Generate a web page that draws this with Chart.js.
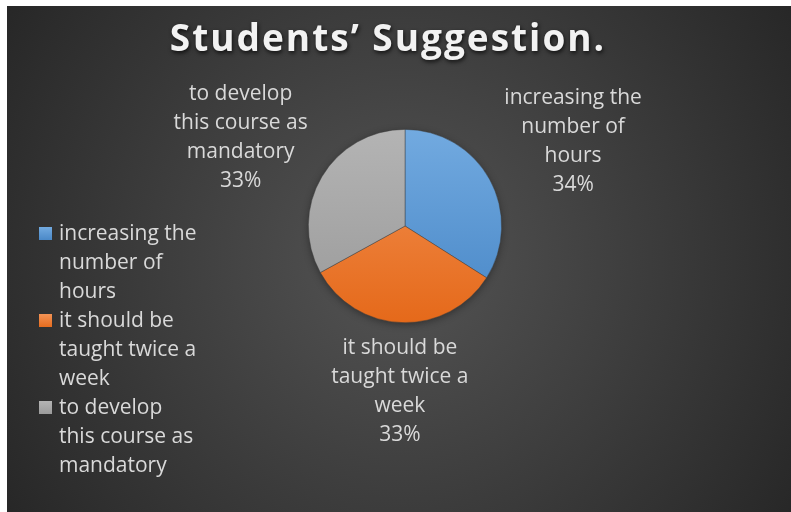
<!DOCTYPE html>
<html>
<head>
<meta charset="utf-8">
<script src="https://cdn.jsdelivr.net/npm/chart.js@4"></script>
<style>
  html, body { margin: 0; padding: 0; background: #fff; }
  canvas { display: block; }
</style>
</head>
<body>
<canvas id="pieChart" width="791" height="512"></canvas>
<script>
// data
const chartTitle = "Students’ Suggestion.";
const categories = [
  ["increasing the", "number of", "hours"],
  ["it should be", "taught twice a", "week"],
  ["to develop", "this course as", "mandatory"]
];
const shares = [34, 33, 33];
const sliceTops = ["#72aae0", "#f39355", "#b4b4b4"];
const sliceBottoms = ["#4786c6", "#e5691a", "#999999"];
const textColor = "#d9d9d9";
const fontFamily = "'Open Sans', sans-serif";

// === BACKGROUND (white frame + dark radial panel) ===
const backgroundPlugin = {
  id: "panelBg",
  beforeDraw(chart) {
    const ctx = chart.ctx;
    ctx.save();
    ctx.fillStyle = "#ffffff";
    ctx.fillRect(0, 0, chart.width, chart.height);
    const g = ctx.createRadialGradient(400, 260, 0, 400, 260, 480);
    g.addColorStop(0, "#545454");
    g.addColorStop(1, "#262626");
    ctx.fillStyle = g;
    ctx.fillRect(7, 6, chart.width - 7, chart.height - 6);
    ctx.restore();
  },
  beforeDatasetsDraw(chart) {
    // soft shadow under the pie
    const arc = chart.getDatasetMeta(0).data[0];
    if (!arc) return;
    const ctx = chart.ctx;
    ctx.save();
    ctx.shadowColor = "rgba(0,0,0,0.45)";
    ctx.shadowBlur = 8;
    ctx.shadowOffsetY = 2;
    ctx.beginPath();
    ctx.arc(arc.x, arc.y, arc.outerRadius - 1, 0, Math.PI * 2);
    ctx.fillStyle = "#555";
    ctx.fill();
    ctx.restore();
  }
};

// === TITLE ===
const titlePlugin = {
  id: "shadowTitle",
  afterDraw(chart) {
    const ctx = chart.ctx;
    ctx.save();
    ctx.font = "bold 37px " + fontFamily;
    ctx.letterSpacing = "2px";
    ctx.textAlign = "center";
    ctx.textBaseline = "middle";
    ctx.shadowColor = "rgba(0,0,0,0.75)";
    ctx.shadowBlur = 4;
    ctx.shadowOffsetX = 1;
    ctx.shadowOffsetY = 2;
    ctx.fillStyle = "#f2f2f2";
    ctx.fillText(chartTitle, 388, 40);
    ctx.restore();
  }
};

// === DATA LABELS (outside the slices) ===
const lineH = 29;
const dataLabelPlugin = {
  id: "outsideLabels",
  afterDatasetsDraw(chart) {
    const ctx = chart.ctx;
    const meta = chart.getDatasetMeta(0);
    const total = shares.reduce((a, b) => a + b, 0);
    ctx.save();
    ctx.font = "21px " + fontFamily;
    ctx.fillStyle = textColor;
    ctx.textAlign = "center";
    ctx.textBaseline = "middle";
    meta.data.forEach((arc, i) => {
      const p = arc.getProps(["x", "y", "startAngle", "endAngle", "outerRadius"], true);
      const mid = (p.startAngle + p.endAngle) / 2;
      const lines = categories[i].concat([Math.round(shares[i] / total * 100) + "%"]);
      const w = Math.max(...lines.map(l => ctx.measureText(l).width));
      const h = lines.length * lineH;
      const c = Math.cos(mid), s = Math.sin(mid);
      // horizontal push uses the whole box, vertical one mostly its height
      const dx = p.outerRadius + 7 + Math.abs(c) * w / 2 + Math.abs(s) * h / 2;
      const dy = p.outerRadius + 11 + h / 2 + Math.abs(c) * 10.5;
      const cx = p.x + c * dx;
      const cy = p.y + s * dy;
      lines.forEach((l, k) => {
        ctx.fillText(l, cx, cy - h / 2 + lineH / 2 + k * lineH);
      });
    });
    ctx.restore();
  }
};

// === LEGEND (left side) ===
const legendPlugin = {
  id: "sideLegend",
  afterDraw(chart) {
    const ctx = chart.ctx;
    ctx.save();
    ctx.font = "21px " + fontFamily;
    ctx.textBaseline = "middle";
    let y = 234;
    categories.forEach((lines, i) => {
      const g = ctx.createLinearGradient(0, y - 7, 0, y + 7);
      g.addColorStop(0, sliceTops[i]);
      g.addColorStop(1, sliceBottoms[i]);
      ctx.fillStyle = g;
      ctx.fillRect(39, y - 7, 13, 13);
      ctx.fillStyle = textColor;
      lines.forEach((l, k) => ctx.fillText(l, 59, y + k * lineH));
      y += lines.length * lineH;
    });
    ctx.restore();
  }
};

function sliceFill(context) {
  const chart = context.chart;
  const area = chart.chartArea;
  if (!area) return sliceTops[context.dataIndex];
  const g = chart.ctx.createLinearGradient(0, area.top, 0, area.bottom);
  g.addColorStop(0, sliceTops[context.dataIndex]);
  g.addColorStop(1, sliceBottoms[context.dataIndex]);
  return g;
}

new Chart(document.getElementById("pieChart").getContext("2d"), {
  type: "pie",
  data: {
    labels: categories,
    datasets: [{
      data: shares,
      backgroundColor: sliceFill,
      borderColor: "rgba(60,60,60,0.6)",
      borderWidth: 0.75
    }]
  },
  options: {
    responsive: false,
    animation: false,
    events: [],
    layout: { padding: { left: 308, right: 289, top: 129, bottom: 189 } },
    plugins: {
      legend: { display: false },
      title: { display: false },
      tooltip: { enabled: false }
    }
  },
  plugins: [backgroundPlugin, dataLabelPlugin, legendPlugin, titlePlugin]
});
</script>
</body>
</html>
